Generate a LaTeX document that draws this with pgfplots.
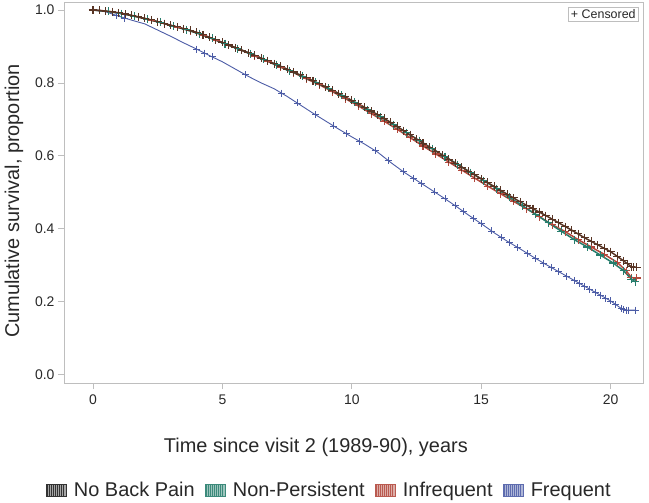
\documentclass[border=0pt]{standalone}
\usepackage{pgfplots}
\pgfplotsset{compat=1.18}
\usepackage{pgfplotstable}
\usepackage{fontspec}
\setmainfont{Liberation Sans}
\usetikzlibrary{calc}

\definecolor{nbp}{RGB}{88,52,36}
\definecolor{nps}{RGB}{38,125,108}
\definecolor{inf}{RGB}{178,72,60}
\definecolor{frq}{RGB}{76,92,166}
\definecolor{axgray}{RGB}{190,190,190}
\definecolor{txt}{RGB}{40,40,40}

% legend swatch: light fill with vertical hatching, plus a small gap to the text
\newcommand{\swatch}[2]{%
  \path[draw=none, fill=none] (0bp,0bp) -- (26bp,0bp);
  \fill[#2] (0bp,-6bp) rectangle (20bp,6bp);
  \foreach \xx in {1.5,3.5,...,19} {\draw[#1,line width=0.7bp] (\xx bp,-6bp) -- (\xx bp,6bp);}
  \draw[#1,line width=0.4bp] (0bp,-6bp) rectangle (20bp,6bp);}

% No Back Pain
\pgfplotstableread{
t s
0 1.000
0.5 0.997
1 0.992
1.5 0.985
2 0.977
2.5 0.968
3 0.958
3.5 0.949
4 0.939
4.5 0.925
5 0.911
5.5 0.897
6 0.883
6.5 0.868
7 0.853
7.5 0.838
8 0.822
8.5 0.806
9 0.789
9.5 0.771
10 0.752
10.5 0.733
11 0.713
11.5 0.692
12 0.669
12.5 0.646
13 0.624
13.5 0.602
14 0.580
14.5 0.558
15 0.537
15.5 0.516
16 0.495
16.5 0.474
17 0.455
17.5 0.436
18 0.416
18.5 0.396
19 0.375
19.5 0.356
20 0.337
20.5 0.312
20.8 0.296
20.9 0.295
21.0 0.295
}\nbptab

% No Back Pain, further censored marks
\pgfplotstableread{
t s
0.25 0.999
0.75 0.995
1.25 0.989
1.75 0.981
2.25 0.973
2.75 0.963
3.25 0.954
3.75 0.944
4.25 0.932
4.75 0.918
5.25 0.904
5.75 0.890
6.25 0.876
6.75 0.861
7.25 0.846
7.75 0.830
8.25 0.814
8.75 0.798
9.25 0.780
9.75 0.762
10.25 0.743
10.75 0.723
11.25 0.703
11.75 0.681
12.25 0.658
12.75 0.635
13.25 0.613
13.75 0.591
14.25 0.569
14.75 0.548
15.25 0.527
15.75 0.506
16.25 0.485
16.75 0.465
17.25 0.446
17.75 0.426
18.25 0.406
18.75 0.386
19.25 0.366
19.75 0.347
20.25 0.325
20.65 0.304
}\nbpcens

% Non-Persistent
\pgfplotstableread{
t s
0 1.000
0.6 0.996
1.1 0.990
1.6 0.983
2.1 0.975
2.6 0.966
3.1 0.956
3.6 0.946
4.1 0.935
4.6 0.922
5.1 0.908
5.6 0.894
6.1 0.880
6.6 0.865
7.1 0.850
7.6 0.834
8.1 0.818
8.6 0.802
9.1 0.785
9.6 0.766
10.1 0.747
10.6 0.727
11.1 0.707
11.6 0.686
12.1 0.664
12.6 0.642
13.1 0.620
13.6 0.598
14.1 0.576
14.6 0.554
15.1 0.532
15.6 0.510
16.1 0.486
16.6 0.463
17.1 0.440
17.6 0.416
18.1 0.393
18.6 0.370
19.1 0.350
19.6 0.328
20.1 0.306
20.5 0.285
20.8 0.262
20.95 0.255
}\npstab

% Infrequent
\pgfplotstableread{
t s
0 1.000
0.25 0.999
0.75 0.995
1.25 0.989
1.75 0.981
2.25 0.972
2.75 0.963
3.25 0.953
3.75 0.943
4.25 0.931
4.75 0.917
5.25 0.903
5.75 0.889
6.25 0.874
6.75 0.859
7.25 0.843
7.75 0.828
8.25 0.811
8.75 0.795
9.25 0.776
9.75 0.757
10.25 0.737
10.75 0.716
11.25 0.695
11.75 0.673
12.25 0.650
12.75 0.627
13.25 0.605
13.75 0.583
14.25 0.561
14.75 0.539
15.25 0.517
15.75 0.496
16.25 0.475
16.75 0.455
17.25 0.433
17.75 0.411
18.25 0.392
18.75 0.370
19.25 0.350
19.75 0.330
20.25 0.308
20.6 0.285
20.8 0.266
21.0 0.265
}\inftab

% Frequent (curve)
\pgfplotstableread{
t s
0 1.000
0.5 0.995
1 0.983
1.5 0.972
2 0.962
2.5 0.945
3 0.928
3.5 0.910
4 0.893
4.5 0.875
5 0.858
5.5 0.838
6 0.818
6.5 0.800
7 0.784
7.5 0.763
8 0.740
8.5 0.717
9 0.695
9.5 0.673
10 0.652
10.5 0.632
11 0.610
11.5 0.582
12 0.556
12.5 0.533
13 0.510
13.5 0.487
14 0.463
14.5 0.438
15 0.414
15.5 0.389
16 0.366
16.5 0.345
17 0.323
17.5 0.302
18 0.282
18.5 0.262
19 0.242
19.5 0.222
20 0.202
20.4 0.182
20.6 0.177
20.95 0.177
}\frqtab

% Frequent (censored marks)
\pgfplotstableread{
t s
0.9 0.985
1.2 0.978
4.0 0.893
4.3 0.882
4.6 0.872
5.9 0.822
7.3 0.772
7.9 0.745
8.6 0.713
9.3 0.682
9.8 0.661
10.3 0.640
10.9 0.615
11.4 0.588
12.0 0.556
12.4 0.538
12.7 0.524
13.2 0.501
13.6 0.482
14.0 0.463
14.3 0.448
14.7 0.428
15.0 0.414
15.4 0.394
15.8 0.375
16.1 0.362
16.4 0.349
16.8 0.332
17.1 0.319
17.4 0.306
17.7 0.294
18.0 0.282
18.3 0.270
18.6 0.258
18.8 0.250
19.0 0.242
19.2 0.234
19.4 0.226
19.6 0.218
19.8 0.210
20.0 0.202
20.2 0.192
20.4 0.182
20.5 0.178
20.6 0.177
20.7 0.177
20.95 0.177
}\frqcens

\begin{document}
\begin{tikzpicture}
\begin{axis}[
	scale only axis,
	width=579bp,
	height=381bp,
	xmin=-1.12, xmax=21.25,
	ymin=-0.023, ymax=1.022,
	xtick={0,5,10,15,20},
	ytick={0,0.2,0.4,0.6,0.8,1.0},
	xtick pos=lower, ytick pos=left,
	tick align=outside,
	major tick length=6bp,
	tick style={axgray, line width=0.8bp},
	axis line style={axgray, line width=0.9bp},
	ticklabel style={font=\fontsize{14}{16}\selectfont, text=txt},
	/pgf/number format/assume math mode=true,
	yticklabel style={/pgf/number format/.cd, fixed, precision=1, fixed zerofill},
	xticklabel style={yshift=-2bp},
	xlabel={Time since visit 2 (1989-90), years},
	ylabel={Cumulative survival, proportion},
	label style={font=\fontsize{20}{24}\selectfont, text=txt},
	xlabel style={at={(axis description cs:0.435,0)}, anchor=base, yshift=-69bp},
	ylabel style={at={(axis description cs:-0.0864,0.478)}, anchor=center},
	legend style={at={(axis description cs:0.458,-0.281)}, anchor=center,
		draw=none, fill=none, legend columns=-1,
		font=\fontsize{20}{24}\selectfont, text=txt,
		/tikz/every even column/.append style={column sep=8bp},
		nodes={inner sep=2bp}},
	clip=false,
]
\addplot[frq, line width=0.9bp, mark=none, forget plot] table[x=t,y=s] {\frqtab};
\addplot[frq, only marks, mark=+, mark size=3.5bp, mark options={line width=0.9bp}, forget plot] table[x=t,y=s] {\frqcens};
\addplot[inf, line width=1.5bp, mark=+, mark size=4bp, mark options={line width=1.1bp}, forget plot] table[x=t,y=s] {\inftab};
\addplot[nps, line width=1.5bp, mark=+, mark size=4bp, mark options={line width=1.1bp}, forget plot] table[x=t,y=s] {\npstab};
\addplot[nbp, line width=1.5bp, mark=+, mark size=4bp, mark options={line width=1.1bp}, forget plot] table[x=t,y=s] {\nbptab};
\addplot[nbp, only marks, mark=+, mark size=4bp, mark options={line width=1.1bp}, forget plot] table[x=t,y=s] {\nbpcens};

\addlegendimage{legend image code/.code={\swatch{black!80}{black!35}}}
\addlegendentry{No Back Pain}
\addlegendimage{legend image code/.code={\swatch{nps!90}{nps!45}}}
\addlegendentry{Non-Persistent}
\addlegendimage{legend image code/.code={\swatch{inf!90}{inf!45}}}
\addlegendentry{Infrequent}
\addlegendimage{legend image code/.code={\swatch{frq!90}{frq!45}}}
\addlegendentry{Frequent}

\node[draw=axgray, fill=white, anchor=north east, inner sep=2.5bp,
	font=\fontsize{12.5}{14}\selectfont, text=txt] at (rel axis cs:0.992,0.987) {+ Censored};

\coordinate (bl) at (rel axis cs:0,0);
\coordinate (tr) at (rel axis cs:1,1);
\end{axis}
\pgfresetboundingbox
\path[use as bounding box] ($(bl)+(-64bp,-120bp)$) rectangle ($(tr)+(6bp,2bp)$);
\end{tikzpicture}
\end{document}
